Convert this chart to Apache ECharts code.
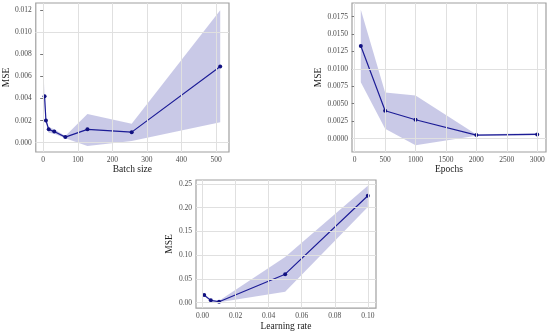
<!DOCTYPE html>
<html><head><meta charset="utf-8">
<script src="https://cdn.jsdelivr.net/npm/echarts@6/dist/echarts.min.js"></script>
<style>html,body{margin:0;padding:0;background:#fff}#c{width:550px;height:332px}</style>
</head><body><div id="c"></div>
<script>
// ---- data ----
const batchSizes = [4, 8, 16, 32, 64, 128, 256, 512];
const batchMSE   = [0.0042, 0.0020, 0.0012, 0.0010, 0.0005, 0.0012, 0.00095, 0.0069];
const batchUpper = [0.0054, 0.0022, 0.0014, 0.0012, 0.0006, 0.0026, 0.0017, 0.0120];
const batchLower = [0.0033, 0.0018, 0.0009, 0.0008, 0.0004, -0.0003, 0.00015, 0.00185];
const batchXTicks = [0, 100, 200, 300, 400, 500];
const batchYTicks = [0, 0.002, 0.004, 0.006, 0.008, 0.010, 0.012];

const epochs      = [100, 500, 1000, 2000, 3000];
const epochMSE    = [0.0133, 0.0040, 0.0027, 0.0005, 0.0006];
const epochUpper  = [0.0185, 0.0066, 0.0062, 0.0006, 0.0008];
const epochLower  = [0.0081, 0.0014, -0.00096, 0.0004, 0.0005];
const epochXTicks = [0, 500, 1000, 1500, 2000, 2500, 3000];
const epochYTicks = [0, 0.0025, 0.005, 0.0075, 0.01, 0.0125, 0.015, 0.0175];

const lrs       = [0.001, 0.005, 0.01, 0.05, 0.1];
const lrMSE     = [0.016, 0.005, 0.002, 0.060, 0.225];
const lrUpper   = [0.019, 0.007, 0.004, 0.096, 0.246];
const lrLower   = [0.013, 0.003, 0.001, 0.023, 0.201];
const lrXTicks  = [0, 0.02, 0.04, 0.06, 0.08, 0.10];
const lrYTicks  = [0, 0.05, 0.10, 0.15, 0.20, 0.25];

// ---- chart ----
const FONT = '"Liberation Serif", "DejaVu Serif", serif';
const LINE = '#1c1c96';
const FILL = 'rgba(40,40,160,0.25)';

function fmt(dec){ return v => v.toFixed(dec); }

function axis(gi, min, max, ticks, dec, name, gap, margin){
  return {
    type:'value', gridIndex:gi, min:min, max:max, name:name, nameLocation:'middle', nameGap:gap,
    nameTextStyle:{fontFamily:FONT, fontSize:9.5, color:'#222'},
    axisLine:{show:false},
    axisTick:{show:true, length:3, lineStyle:{color:'#777'}, customValues:ticks},
    axisLabel:{fontFamily:FONT, fontSize:7.5, color:'#4d4d4d', margin:margin, customValues:ticks, formatter:fmt(dec)},
    splitLine:{show:false}
  };
}

const xAxes = [
  axis(0, -21.4, 537.4, batchXTicks, 0, 'Batch size', 11, 4),
  axis(1, -45, 3145, epochXTicks, 0, 'Epochs', 11, 4),
  axis(2, -0.00395, 0.10495, lrXTicks, 2, 'Learning rate', 11, 4)
];
const yAxes = [
  axis(0, -0.00085, 0.01265, batchYTicks, 3, 'MSE', 23, 4),
  axis(1, -0.00193, 0.01947, epochYTicks, 4, 'MSE', 25, 4),
  axis(2, -0.0113, 0.258, lrYTicks, 2, 'MSE', 16, 4)
];

const grids = [
  {left:33, top:3, width:196, height:149},
  {left:352, top:3, width:194, height:149},
  {left:196, top:180, width:180, height:132}
];
grids.forEach(g => { g.show = true; g.borderColor = '#a0a0a0'; g.borderWidth = 1.2; g.backgroundColor = 'transparent'; });

// grid lines via markLine on a helper series per panel
function gridSeries(gi, xt, yt){
  const data = [];
  xt.forEach(v => data.push({xAxis:v}));
  yt.forEach(v => data.push({yAxis:v}));
  return {
    type:'line', xAxisIndex:gi, yAxisIndex:gi, data:[], z:0, silent:true,
    markLine:{silent:true, symbol:'none', label:{show:false}, animation:false,
      lineStyle:{color:'#e0e0e0', width:1, type:'solid'}, data:data}
  };
}

function bandSeries(gi, xs, lo, hi){
  return {
    type:'custom', xAxisIndex:gi, yAxisIndex:gi, z:1, silent:true,
    data: xs.map((x,i)=>[x, lo[i], hi[i]]),
    renderItem:(params, api) => {
      if (params.dataIndex !== 0) return null;
      const pts = [];
      for (let i=0;i<xs.length;i++) pts.push(api.coord([xs[i], hi[i]]));
      for (let i=xs.length-1;i>=0;i--) pts.push(api.coord([xs[i], lo[i]]));
      return {type:'polygon', shape:{points:pts}, style:{fill:FILL, stroke:null}};
    }
  };
}
function lineSeries(gi, xs, ys){
  return {
    type:'line', xAxisIndex:gi, yAxisIndex:gi, z:3,
    data: xs.map((x,i)=>[x, ys[i]]),
    symbol:'circle', symbolSize:4, showSymbol:true,
    lineStyle:{color:LINE, width:1.2}, itemStyle:{color:'#101080'}
  };
}

const chart = echarts.init(document.getElementById('c'), null, {renderer:'canvas'});
chart.setOption({
  animation:false,
  backgroundColor:'#fff',
  grid:grids, xAxis:xAxes, yAxis:yAxes,
  series:[
    gridSeries(0, batchXTicks, batchYTicks), bandSeries(0, batchSizes, batchLower, batchUpper), lineSeries(0, batchSizes, batchMSE),
    gridSeries(1, epochXTicks, epochYTicks), bandSeries(1, epochs, epochLower, epochUpper), lineSeries(1, epochs, epochMSE),
    gridSeries(2, lrXTicks, lrYTicks), bandSeries(2, lrs, lrLower, lrUpper), lineSeries(2, lrs, lrMSE)
  ]
});
</script></body></html>
